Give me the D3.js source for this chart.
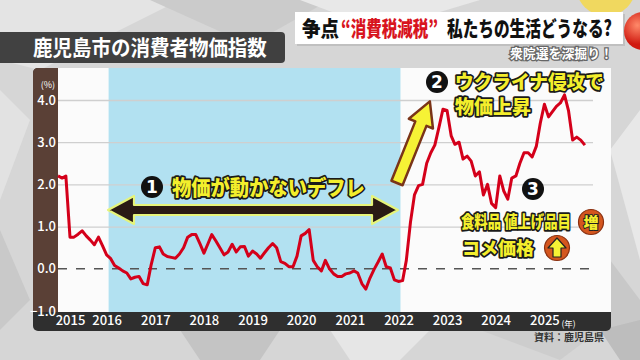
<!DOCTYPE html>
<html><head><meta charset="utf-8">
<script src="https://cdn.jsdelivr.net/npm/d3@7"></script>
<style>html,body{margin:0;padding:0;background:#d8d8d8;}svg{display:block;}</style>
</head><body>
<svg id="c" width="640" height="360"></svg>
<script>
// ---- data ----
const startYear = 2015;
const cpiValues = [
 2.2,2.15,2.2,0.75,0.75,0.82,0.9,0.78,0.68,0.57,0.75,0.55,
 0.33,0.24,0.08,0.02,-0.05,-0.1,-0.24,-0.2,-0.18,-0.35,-0.38,0.1,
 0.5,0.52,0.35,0.29,0.27,0.25,0.35,0.5,0.75,0.81,0.81,0.6,
 0.37,0.6,0.81,0.66,0.5,0.33,0.4,0.58,0.4,0.52,0.53,0.3,
 0.42,0.35,0.25,0.38,0.5,0.6,0.5,0.17,0.13,0.05,0.05,0.3,
 0.78,0.84,0.93,0.2,0.05,-0.05,0.2,0.0,-0.12,-0.18,-0.18,-0.12,
 -0.1,-0.05,-0.1,-0.35,-0.48,-0.22,-0.02,0.16,0.35,0.05,0.02,-0.26,
 -0.3,-0.28,0.2,1.1,1.75,1.97,2.0,2.5,2.75,2.93,3.35,3.78,
 3.75,3.15,2.95,3.0,2.6,2.67,2.55,2.2,2.3,1.75,2.0,1.55,
 1.45,2.2,1.85,1.65,2.15,2.2,2.5,2.75,2.75,2.65,2.9,3.45,
 3.9,3.6,3.72,3.85,3.93,4.12,3.75,3.05,3.12,3.05,2.93
];
const yTicks = [-1,0,1,2,3,4];
const xYears = [2015,2016,2017,2018,2019,2020,2021,2022,2023,2024,2025];
const deflationSpan = [2016, 2022];
const chartTitle = "鹿児島市の消費者物価指数";
const headerParts = ["争点", "“消費税減税”", "私たちの生活どうなる?"];
const subHeader = "衆院選を深掘り！";
const note1 = "物価が動かないデフレ";
const note2a = "ウクライナ侵攻で", note2b = "物価上昇";
const note3a = "食料品 値上げ品目", note3b = "コメ価格";
const sourceText = "資料：鹿児島県";

// ---- drawing ----
const svg = d3.select("#c");
const FONT = "'Noto Sans CJK JP','Noto Sans',sans-serif";

// squeeze a text horizontally to a given width using a transform
function fitText(sel, tx, ty, width){
  const w = sel.node().getComputedTextLength();
  const s = Math.min(1, width / w);
  sel.attr("x",0).attr("y",0).attr("transform",`translate(${tx},${ty}) scale(${s},1)`);
  return sel;
}

// background
const bg = svg.append("g");
bg.append("rect").attr("width",640).attr("height",360).attr("fill","#d6d6d6");
const polys = [
 ["0,0 180,0 40,70 0,60","#e4e4e4"],
 ["150,0 330,0 250,45","#cbcbcb"],
 ["300,0 480,0 380,30","#e8e8e8"],
 ["0,90 30,120 0,200","#e2e2e2"],
 ["0,230 30,300 0,330","#c9c9c9"],
 ["180,330 280,330 260,360 200,360","#c4c4c4"],
 ["330,330 430,330 400,360 350,360","#e6e6e6"],
 ["480,330 600,330 560,360","#cdcdcd"],
 ["610,150 640,110 640,260","#e8e8e8"],
 ["610,260 640,300 640,340 610,330","#c8c8c8"],
 ["600,330 640,320 640,360 620,360","#bdbdbd"]
];
polys.forEach(p=>bg.append("polygon").attr("points",p[0]).attr("fill",p[1]));

// panel geometry
const L = 58, R = 593, T = 68, B = 312;
const x = d3.scaleTime().domain([new Date(startYear,0,1), new Date(2026,0,1)]).range([L, R]);
const y = d3.scaleLinear().domain([-1,4]).range([311,100]);

// panel
svg.append("rect").attr("x",33).attr("y",T).attr("width",578).attr("height",263).attr("rx",5).attr("fill","#2f2f2f");
svg.append("rect").attr("x",L).attr("y",T).attr("width",553).attr("height",B-T).attr("fill","#fbfbfb");
svg.append("path").attr("d",`M33,${T+5} Q33,${T} 38,${T} L${L},${T} L${L},${B} L33,${B} Z`).attr("fill","#5a4036");

// deflation band
svg.append("rect")
  .attr("x", x(new Date(deflationSpan[0],0,16)))
  .attr("width", x(new Date(deflationSpan[1],0,16)) - x(new Date(deflationSpan[0],0,16)))
  .attr("y",T).attr("height",B-T).attr("fill","#b2e1f1");

// gridlines
const grid = svg.append("g").attr("transform",`translate(${L},0)`)
  .call(d3.axisRight(y).tickValues(yTicks.filter(v=>v>0)).tickSize(R-L).tickFormat(""));
grid.select(".domain").remove();
grid.selectAll("line").attr("stroke","#cfcfcf").attr("stroke-width",1.3);

// zero dashed
svg.append("line").attr("x1",L).attr("x2",R).attr("y1",y(0)).attr("y2",y(0))
  .attr("stroke","#555").attr("stroke-width",1.5).attr("stroke-dasharray","9,9");

// y axis labels
const ya = svg.append("g").attr("transform",`translate(56,0)`)
  .call(d3.axisLeft(y).tickValues(yTicks).tickSize(0).tickPadding(0).tickFormat(d3.format(".1f")));
ya.select(".domain").remove();
ya.selectAll("text").attr("fill","#fff").attr("font-family",FONT).attr("font-size",13).attr("font-weight",500);
svg.append("text").attr("x",55).attr("y",88).attr("text-anchor","end").attr("fill","#fff")
  .attr("font-family",FONT).attr("font-size",9).text("(%)");

// x axis labels
const xa = svg.append("g").attr("transform",`translate(0,${B})`)
  .call(d3.axisBottom(x).tickValues(xYears.map(yr=>new Date(yr, yr===2015?3:0, 1)))
  .tickSize(0).tickPadding(4).tickFormat(d=>d3.timeFormat("%Y")(d)));
xa.select(".domain").remove();
xa.selectAll("text").attr("fill","#fff").attr("font-family",FONT).attr("font-size",13).attr("font-weight",500);
svg.append("text").attr("x",x(new Date(2025,0,1))+17).attr("y",B+15).attr("fill","#fff")
  .attr("font-family",FONT).attr("font-size",8.5).text("(年)");

// line
const series = cpiValues.map((v,i)=>({d:new Date(startYear, i, 1), v}));
svg.append("path").datum(series)
  .attr("d", d3.line().x(p=>x(p.d)).y(p=>y(p.v)))
  .attr("fill","none").attr("stroke","#d4001a").attr("stroke-width",3).attr("stroke-linejoin","round");

// source
svg.append("text").attr("x",604).attr("y",341).attr("text-anchor","end").attr("fill","#333")
  .attr("font-family",FONT).attr("font-size",10).attr("font-weight",700).text(sourceText);

// title bar
svg.append("rect").attr("x",-6).attr("y",32).attr("width",291).attr("height",31).attr("rx",4).attr("fill","#333").attr("opacity",0.92);
fitText(svg.append("text").attr("fill","#fff").attr("font-family",FONT)
  .attr("font-size",21).attr("font-weight",700).text(chartTitle), 33, 55, 234);

// header
svg.append("circle").attr("cx",606).attr("cy",-14).attr("r",30).attr("fill","#f5d84a").attr("opacity",0.85);
svg.append("rect").attr("x",297).attr("y",14).attr("width",328).attr("height",32).attr("fill","#aaa").attr("opacity",0.5);
svg.append("rect").attr("x",295).attr("y",12).attr("width",328).attr("height",32).attr("fill","#fff");
const rg = svg.append("defs").append("radialGradient").attr("id","sph").attr("cx","35%").attr("cy","35%");
rg.append("stop").attr("offset","0%").attr("stop-color","#ff8a6a");
rg.append("stop").attr("offset","100%").attr("stop-color","#d01a10");
svg.append("circle").attr("cx",643).attr("cy",31).attr("r",19).attr("fill","url(#sph)");
const hdr = [[302,37,headerParts[0],"#111"],[341,97,headerParts[1],"#d8141e"],[447,165,headerParts[2],"#111"]];
hdr.forEach(h=>{
  fitText(svg.append("text").attr("font-family",FONT).attr("font-size",21)
    .attr("font-weight",900).attr("fill",h[3]).text(h[2]), h[0], 36, h[1]);
});
fitText(svg.append("text").attr("font-family",FONT)
  .attr("font-size",13).attr("font-weight",700).attr("fill","#fff").attr("stroke","#666").attr("stroke-width",2.5)
  .attr("paint-order","stroke").text(subHeader), 510, 58, 103);

// annotations
function badge(cx, cy, t){
  svg.append("circle").attr("cx",cx).attr("cy",cy).attr("r",11).attr("fill","#111");
  svg.append("text").attr("x",cx).attr("y",cy+6).attr("text-anchor","middle").attr("fill","#fff")
    .attr("font-family","'DejaVu Sans',sans-serif").attr("font-weight",700).attr("font-size",17).text(t);
}
function yellowText(tx, ty, t, len, fs){
  const s = svg.append("text").attr("font-family",FONT).attr("font-size",fs)
    .attr("font-weight",900).attr("fill","#f3ee2c").attr("stroke","#1a1a1a").attr("stroke-width",3.5)
    .attr("stroke-linejoin","round").attr("paint-order","stroke").text(t);
  fitText(s, tx, ty, len);
}
// double arrow
svg.append("path").attr("d","M108,210 L134,196 L134,205 L372,205 L372,196 L398,210 L372,224 L372,215 L134,215 L134,224 Z")
  .attr("fill","#2a1a14").attr("stroke","#e6f47a").attr("stroke-width",2.2).attr("stroke-linejoin","round");
badge(152,187,"1");
yellowText(172,195,note1,193,21);

// yellow arrow up
const ang = Math.atan2(101-183, 430-397)*180/Math.PI;
svg.append("path").attr("d","M0,-6 L64,-6 L64,-13 L88,0 L64,13 L64,6 L0,6 Z")
  .attr("transform",`translate(397,183) rotate(${ang})`)
  .attr("fill","#f6f235").attr("stroke","#7a3418").attr("stroke-width",2.5).attr("stroke-linejoin","round");

badge(437,82,"2");
yellowText(455,89,note2a,149,19);
yellowText(455,114,note2b,80,19);

badge(533,189,"3");
yellowText(461,228,note3a,110,17);
yellowText(462,255,note3b,75,18);

// orange badges
svg.append("circle").attr("cx",591).attr("cy",222).attr("r",12.5).attr("fill","#d4561e").attr("stroke","#8a3010").attr("stroke-width",1.2);
svg.append("text").attr("x",591).attr("y",228).attr("text-anchor","middle").attr("font-family",FONT)
  .attr("font-size",15).attr("font-weight",900).attr("fill","#f3ee2c").attr("stroke","#222").attr("stroke-width",2)
  .attr("paint-order","stroke").text("増");
svg.append("circle").attr("cx",557).attr("cy",248).attr("r",12.5).attr("fill","#d4561e").attr("stroke","#8a3010").attr("stroke-width",1.2);
svg.append("path").attr("d","M557,238 L566,248 L561,248 L561,257 L553,257 L553,248 L548,248 Z")
  .attr("fill","#f6f235").attr("stroke","#222").attr("stroke-width",1.2).attr("stroke-linejoin","round");
</script>
</body></html>
